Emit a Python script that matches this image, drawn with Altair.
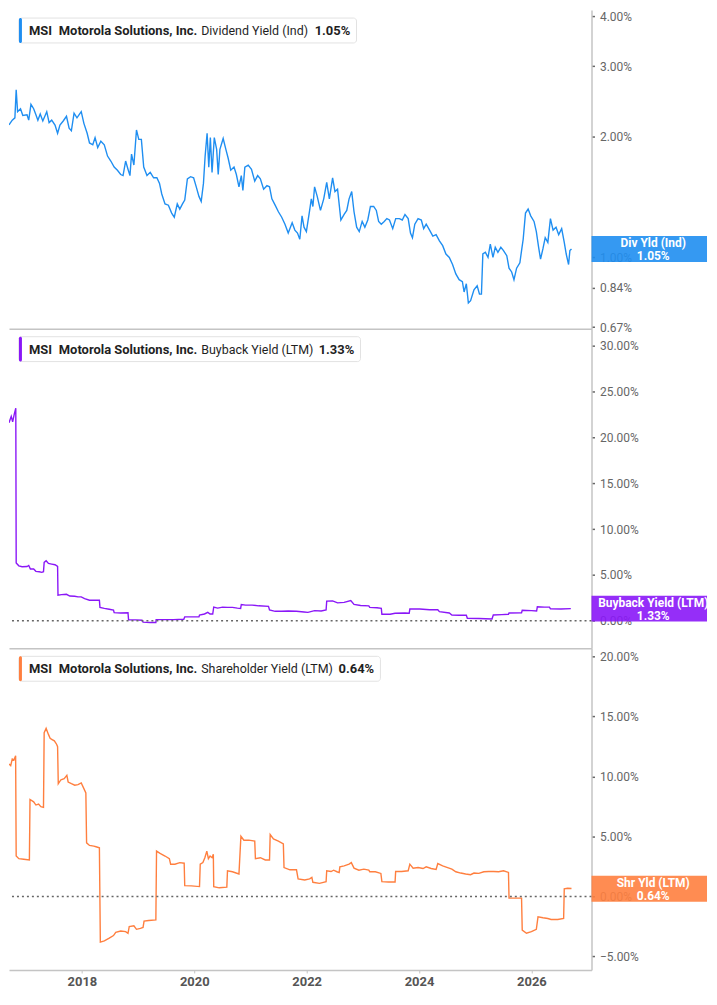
import altair as alt
import pandas as pd

# ---------------- data ----------------
div_year = [2016.702, 2016.760, 2016.807, 2016.830, 2016.855, 2016.907, 2016.948, 2017.023, 2017.053, 2017.093,
            2017.141, 2017.181, 2017.216, 2017.258, 2017.304, 2017.374, 2017.416, 2017.462, 2017.521, 2017.567,
            2017.609, 2017.667, 2017.725, 2017.772, 2017.812, 2017.860, 2017.912, 2017.960, 2017.988, 2018.035,
            2018.093, 2018.135, 2018.193, 2018.234, 2018.281, 2018.337, 2018.398, 2018.456, 2018.514, 2018.574,
            2018.632, 2018.690, 2018.732, 2018.778, 2018.820, 2018.855, 2018.883, 2018.925, 2018.971, 2019.012,
            2019.058, 2019.100, 2019.158, 2019.216, 2019.276, 2019.334, 2019.381, 2019.421, 2019.479, 2019.539,
            2019.597, 2019.644, 2019.697, 2019.742, 2019.790, 2019.830, 2019.877, 2019.935, 2019.988, 2020.035,
            2020.083, 2020.123, 2020.163, 2020.193, 2020.228, 2020.258, 2020.286, 2020.316, 2020.356, 2020.398,
            2020.426, 2020.456, 2020.514, 2020.562, 2020.602, 2020.649, 2020.707, 2020.749, 2020.795, 2020.837,
            2020.865, 2020.900, 2020.960, 2021.018, 2021.076, 2021.128, 2021.176, 2021.234, 2021.293, 2021.339,
            2021.381, 2021.439, 2021.497, 2021.556, 2021.614, 2021.672, 2021.742, 2021.790, 2021.837, 2021.878,
            2021.918, 2021.953, 2021.995, 2022.053, 2022.083, 2022.111, 2022.141, 2022.188, 2022.246, 2022.304,
            2022.357, 2022.404, 2022.462, 2022.504, 2022.550, 2022.609, 2022.667, 2022.714, 2022.755, 2022.802,
            2022.843, 2022.890, 2022.936, 2022.988, 2023.036, 2023.088, 2023.135, 2023.193, 2023.240, 2023.281,
            2023.328, 2023.381, 2023.427, 2023.474, 2023.532, 2023.585, 2023.650, 2023.702, 2023.750, 2023.807,
            2023.848, 2023.883, 2023.925, 2023.983, 2024.041, 2024.083, 2024.128, 2024.188, 2024.246, 2024.304,
            2024.363, 2024.421, 2024.479, 2024.539, 2024.597, 2024.655, 2024.714, 2024.772, 2024.802, 2024.842,
            2024.878, 2024.918, 2024.978, 2025.035, 2025.076, 2025.111, 2025.136, 2025.181, 2025.228, 2025.269,
            2025.316, 2025.357, 2025.404, 2025.456, 2025.504, 2025.562, 2025.602, 2025.649, 2025.690, 2025.737,
            2025.795, 2025.825, 2025.854, 2025.895, 2025.942, 2025.988, 2026.047, 2026.088, 2026.129, 2026.163,
            2026.205, 2026.246, 2026.293, 2026.339, 2026.386, 2026.439, 2026.486, 2026.539, 2026.585, 2026.620,
            2026.662, 2026.685, 2026.714]
div_val = [2.14, 2.20, 2.23, 2.62, 2.31, 2.35, 2.26, 2.27, 2.20, 2.41,
           2.35, 2.27, 2.20, 2.28, 2.19, 2.31, 2.17, 2.20, 2.14, 2.04,
           2.14, 2.19, 2.25, 2.10, 2.07, 2.29, 2.23, 2.28, 2.31, 2.16,
           2.04, 1.93, 1.91, 1.99, 1.88, 1.95, 1.91, 1.79, 1.74, 1.68,
           1.65, 1.61, 1.60, 1.74, 1.66, 1.60, 1.81, 1.70, 2.08, 1.97,
           1.97, 1.68, 1.60, 1.63, 1.58, 1.58, 1.53, 1.44, 1.36, 1.35,
           1.29, 1.26, 1.36, 1.32, 1.36, 1.39, 1.57, 1.59, 1.58, 1.50,
           1.42, 1.38, 1.53, 1.79, 2.04, 1.68, 1.99, 1.63, 1.99, 1.86,
           1.61, 1.86, 1.98, 1.86, 1.77, 1.65, 1.68, 1.61, 1.50, 1.60,
           1.47, 1.68, 1.70, 1.66, 1.55, 1.60, 1.57, 1.48, 1.51, 1.50,
           1.40, 1.35, 1.30, 1.26, 1.21, 1.15, 1.22, 1.17, 1.15, 1.11,
           1.27, 1.19, 1.16, 1.31, 1.40, 1.34, 1.50, 1.42, 1.31, 1.40,
           1.54, 1.40, 1.58, 1.46, 1.48, 1.24, 1.28, 1.31, 1.40, 1.46,
           1.30, 1.19, 1.16, 1.23, 1.19, 1.24, 1.34, 1.34, 1.31, 1.23,
           1.21, 1.23, 1.25, 1.24, 1.18, 1.25, 1.25, 1.24, 1.28, 1.25,
           1.15, 1.12, 1.21, 1.25, 1.24, 1.18, 1.21, 1.17, 1.13, 1.14,
           1.10, 1.07, 1.02, 1.00, 0.96, 0.91, 0.88, 0.87, 0.82, 0.86,
           0.77, 0.78, 0.83, 0.85, 0.81, 0.81, 1.02, 1.03, 1.00, 1.08,
           1.00, 1.06, 1.03, 1.06, 1.04, 1.01, 0.94, 0.92, 0.88, 0.94,
           0.97, 1.04, 1.11, 1.29, 1.32, 1.27, 1.23, 1.16, 1.06, 0.99,
           1.05, 1.12, 1.09, 1.25, 1.17, 1.19, 1.14, 1.18, 1.09, 1.02,
           0.96, 1.04, 1.05]

bb_year = [2016.702, 2016.742, 2016.767, 2016.798, 2016.823, 2016.830, 2016.877, 2016.935, 2017.023, 2017.053,
           2017.083, 2017.141, 2017.181, 2017.241, 2017.286, 2017.316, 2017.328, 2017.363, 2017.404, 2017.462,
           2017.521, 2017.567, 2017.574, 2017.637, 2017.725, 2017.784, 2017.872, 2017.930, 2017.988, 2018.048,
           2018.135, 2018.234, 2018.311, 2018.321, 2018.399, 2018.486, 2018.562, 2018.574, 2018.690, 2018.820,
           2018.830, 2018.953, 2019.070, 2019.088, 2019.216, 2019.316, 2019.321, 2019.451, 2019.627, 2019.813,
           2019.830, 2019.978, 2020.083, 2020.093, 2020.181, 2020.241, 2020.281, 2020.328, 2020.346, 2020.416,
           2020.504, 2020.592, 2020.679, 2020.767, 2020.825, 2020.837, 2020.913, 2021.030, 2021.146, 2021.321,
           2021.339, 2021.439, 2021.556, 2021.672, 2021.819, 2021.953, 2022.023, 2022.141, 2022.258, 2022.346,
           2022.357, 2022.462, 2022.550, 2022.667, 2022.785, 2022.843, 2022.960, 2023.106, 2023.123, 2023.251,
           2023.329, 2023.339, 2023.486, 2023.574, 2023.750, 2023.825, 2023.837, 2024.013, 2024.188, 2024.334,
           2024.363, 2024.539, 2024.585, 2024.714, 2024.842, 2024.860, 2025.065, 2025.299, 2025.322, 2025.474,
           2025.592, 2025.602, 2025.825, 2025.837, 2026.000, 2026.093, 2026.106, 2026.234, 2026.322, 2026.339,
           2026.527, 2026.702]
bb_val = [21.6, 22.3, 21.7, 22.6, 23.2, 6.3, 6.0, 5.9, 5.93, 6.04,
          5.65, 5.65, 5.40, 5.36, 5.29, 5.36, 6.37, 6.55, 6.26, 6.19,
          6.12, 5.93, 2.79, 2.86, 2.90, 2.71, 2.68, 2.61, 2.61, 2.43,
          2.25, 2.25, 2.25, 1.47, 1.36, 1.26, 1.18, 0.89, 0.86, 0.89,
          0.11, 0.11, 0.07, -0.14, -0.18, -0.18, 0.14, 0.14, 0.14, 0.18,
          0.43, 0.43, 0.43, 0.64, 0.75, 0.93, 0.75, 0.75, 1.50, 1.39,
          1.50, 1.47, 1.47, 1.39, 1.36, 1.79, 1.72, 1.72, 1.64, 1.58,
          1.18, 1.04, 1.04, 1.07, 1.04, 0.97, 0.93, 1.11, 1.07, 1.18,
          2.15, 2.18, 1.96, 2.01, 2.22, 1.79, 1.68, 1.64, 1.47, 1.43,
          1.36, 0.72, 0.72, 0.83, 0.86, 0.83, 1.29, 1.29, 1.21, 1.21,
          1.00, 0.86, 0.64, 0.61, 0.61, 0.29, 0.25, 0.21, 0.64, 0.68,
          0.72, 0.86, 0.89, 1.15, 1.11, 1.07, 1.53, 1.50, 1.50, 1.32,
          1.29, 1.33]

shr_year = [2016.702, 2016.732, 2016.760, 2016.790, 2016.820, 2016.830, 2016.877, 2016.965, 2017.065, 2017.076,
            2017.141, 2017.181, 2017.228, 2017.269, 2017.316, 2017.328, 2017.363, 2017.404, 2017.434, 2017.462,
            2017.509, 2017.549, 2017.567, 2017.579, 2017.627, 2017.684, 2017.732, 2017.755, 2017.813, 2017.872,
            2017.930, 2017.988, 2018.035, 2018.070, 2018.083, 2018.135, 2018.211, 2018.251, 2018.311, 2018.328,
            2018.399, 2018.486, 2018.562, 2018.602, 2018.690, 2018.778, 2018.820, 2018.842, 2018.925, 2018.971,
            2019.041, 2019.088, 2019.106, 2019.188, 2019.316, 2019.328, 2019.391, 2019.479, 2019.556, 2019.579,
            2019.655, 2019.742, 2019.820, 2019.830, 2019.948, 2020.093, 2020.106, 2020.153, 2020.188, 2020.223,
            2020.251, 2020.281, 2020.316, 2020.339, 2020.346, 2020.444, 2020.579, 2020.591, 2020.679, 2020.795,
            2020.830, 2020.883, 2020.970, 2021.076, 2021.088, 2021.176, 2021.263, 2021.339, 2021.351, 2021.409,
            2021.497, 2021.585, 2021.597, 2021.702, 2021.819, 2021.848, 2021.965, 2022.053, 2022.093, 2022.111,
            2022.228, 2022.346, 2022.357, 2022.434, 2022.480, 2022.539, 2022.579, 2022.591, 2022.667, 2022.755,
            2022.795, 2022.843, 2022.930, 2023.018, 2023.106, 2023.123, 2023.223, 2023.321, 2023.339, 2023.456,
            2023.574, 2023.584, 2023.690, 2023.807, 2023.837, 2023.895, 2023.983, 2024.071, 2024.128, 2024.216,
            2024.304, 2024.334, 2024.421, 2024.509, 2024.585, 2024.655, 2024.743, 2024.830, 2024.918, 2024.978,
            2025.065, 2025.153, 2025.241, 2025.328, 2025.416, 2025.504, 2025.592, 2025.602, 2025.707, 2025.825,
            2025.837, 2025.913, 2026.000, 2026.088, 2026.118, 2026.206, 2026.293, 2026.351, 2026.469, 2026.574,
            2026.585, 2026.644, 2026.714]
shr_val = [11.04, 10.91, 11.46, 11.38, 11.73, 3.37, 3.15, 3.10, 3.04, 8.08,
           7.89, 7.62, 7.70, 7.48, 7.43, 13.65, 14.01, 13.51, 13.18, 13.10,
           12.97, 12.69, 12.48, 9.40, 9.73, 9.81, 10.09, 9.54, 9.40, 9.27,
           9.32, 9.46, 8.99, 8.63, 4.47, 4.25, 4.19, 4.14, 4.05, -3.81,
           -3.70, -3.48, -3.26, -2.99, -2.88, -2.93, -3.07, -2.52, -2.44, -2.74,
           -2.66, -2.58, -2.06, -2.00, -1.95, 3.78, 3.59, 3.37, 3.15, 2.69,
           2.69, 2.82, 2.77, 0.90, 0.88, 0.82, 2.69, 2.82, 3.23, 3.78,
           3.15, 3.37, 3.23, 3.51, 0.82, 0.72, 0.77, 2.14, 2.06, 1.87,
           5.02, 4.69, 4.69, 4.61, 3.15, 3.23, 3.04, 3.04, 5.16, 4.79,
           4.61, 4.38, 2.41, 2.22, 2.22, 1.46, 1.37, 1.46, 1.59, 1.18,
           1.09, 1.23, 2.14, 2.08, 2.19, 2.06, 2.00, 2.47, 2.55, 2.69,
           2.82, 2.36, 2.19, 2.28, 2.19, 2.06, 2.06, 1.92, 1.23, 1.21,
           1.21, 2.08, 2.08, 2.14, 2.69, 2.36, 2.41, 2.33, 2.47, 2.33,
           2.25, 2.74, 2.55, 2.41, 2.28, 2.06, 1.95, 1.87, 1.81, 1.95,
           1.92, 2.06, 2.08, 2.08, 2.06, 2.14, 2.00, -0.14, -0.14, -0.14,
           -2.80, -3.07, -2.93, -2.74, -1.70, -1.78, -1.84, -1.92, -1.92, -1.84,
           0.63, 0.68, 0.66]

year_ticks = [2018, 2020, 2022, 2024, 2026]
div_ticks = [0.67, 0.84, 1.0, 2.0, 3.0, 4.0]
bb_ticks = [0, 5, 10, 15, 20, 25, 30]
shr_ticks = [-5, 0, 5, 10, 15, 20]

# ---------------- layout / style ----------------
FONT = "Roboto"
W = 585
BOX_W = 116
X_DOMAIN = [2016.702, 2027.07]
ONE = pd.DataFrame({"a": [0]})


def make_panel(years, vals, color, ydomain, ytype, ticks, H, metric, last_val,
               metric_x, val_x, box_right, short_label, bottom_labels, zero_line):
    df = pd.DataFrame({"year": years, "v": vals, "i": list(range(len(years)))})
    yscale = alt.Scale(type=ytype, domain=ydomain, nice=False, zero=False)
    yaxis = alt.Axis(orient="right", values=ticks, title=None, grid=False,
                     labelExpr="format(datum.value, '.2f') + '%'",
                     domainColor="#c4c4c4", domainWidth=1.5,
                     tickColor="#666", tickSize=3, tickWidth=1.5,
                     labelColor="#666", labelFontSize=12, labelPadding=5,
                     labelOverlap=False, labelFont=FONT)
    if bottom_labels:
        xaxis = alt.Axis(values=year_ticks, format="d", title=None, grid=False,
                         domainColor="#c4c4c4", domainWidth=1.5, tickColor="#c4c4c4",
                         tickSize=3, labelFontWeight="bold", labelColor="#555",
                         labelFontSize=13, labelPadding=3, labelFlush=False, labelFont=FONT)
    else:
        xaxis = alt.Axis(labels=False, ticks=False, title=None, grid=False,
                         domainColor="#c4c4c4", domainWidth=1.5)
    xscale = alt.Scale(domain=X_DOMAIN, nice=False, zero=False)

    def Y(field="v"):
        return alt.Y(f"{field}:Q", scale=yscale, axis=yaxis)

    line = alt.Chart(df).mark_line(color=color, strokeWidth=1.4, clip=True).encode(
        x=alt.X("year:Q", scale=xscale, axis=xaxis),
        y=Y(),
        order=alt.Order("i:Q"),
    )
    layers = [line]
    if zero_line:
        zero = pd.DataFrame({"v": [0.0]})
        layers.append(alt.Chart(zero).mark_rule(color="#666", strokeDash=[2, 3], strokeWidth=1.5).encode(
            y=Y()))

    last = pd.DataFrame({"v": [last_val]})
    box = alt.Chart(last).mark_rect(color=color, opacity=0.9, yOffset=-13, y2Offset=13).encode(
        x=alt.value(W), x2=alt.value(W + BOX_W),
        y=Y(), y2="v:Q")
    t1 = alt.Chart(last).mark_text(color="white", fontWeight="bold", fontSize=12, font=FONT,
                                   dy=-6, align="center", baseline="middle").encode(
        x=alt.value(W + 62), y=Y(), text=alt.value(short_label))
    t2 = alt.Chart(last).mark_text(color="white", fontWeight="bold", fontSize=12, font=FONT,
                                   dy=7, align="center", baseline="middle").encode(
        x=alt.value(W + 62), y=Y(), text=alt.value(f"{last_val:.2f}%"))
    layers += [box, t1, t2]

    # legend chip (top-left)
    chip = alt.Chart(ONE).mark_rect(fill="white", stroke="#e2e2e2", strokeWidth=1, cornerRadius=3).encode(
        x=alt.value(10), x2=alt.value(box_right), y=alt.value(8), y2=alt.value(33))
    bar = alt.Chart(ONE).mark_rect(fill=color, cornerRadius=1.5).encode(
        x=alt.value(10), x2=alt.value(13), y=alt.value(8), y2=alt.value(33))
    layers += [chip, bar]
    for txt, xx, wt, fs in [("MSI", 20, "bold", 13), ("Motorola Solutions, Inc.", 50, "bold", 13),
                            (metric, metric_x, "normal", 12.5), (f"{last_val:.2f}%", val_x, "bold", 13)]:
        layers.append(alt.Chart(ONE).mark_text(align="left", baseline="middle", fontSize=fs,
                                               font=FONT, fontWeight=wt, color="#1f1f1f").encode(
            x=alt.value(xx), y=alt.value(21), text=alt.value(txt)))

    return alt.layer(*layers).properties(width=W, height=H)


p1 = make_panel(div_year, div_val, "#1f8ef1", [0.664, 4.14], "log", div_ticks, 320,
                "Dividend Yield (Ind)", 1.05, 193, 307, 349, "Div Yld (Ind)", False, False)
p2 = make_panel(bb_year, bb_val, "#8a17f7", [-3.0, 31.86], "linear", bb_ticks, 321,
                "Buyback Yield (LTM)", 1.33, 193, 311, 353, "Buyback Yield (LTM)", False, True)
p3 = make_panel(shr_year, shr_val, "#ff7f3f", [-6.13, 20.68], "linear", shr_ticks, 323,
                "Shareholder Yield (LTM)", 0.64, 193, 331, 373, "Shr Yld (LTM)", True, True)

chart = alt.vconcat(p1, p2, p3, spacing=0, bounds="flush", padding=0).configure(
    font=FONT).configure_view(stroke="transparent", strokeWidth=0)

chart.save("out.html", embed_options={"renderer": "svg", "actions": False})
